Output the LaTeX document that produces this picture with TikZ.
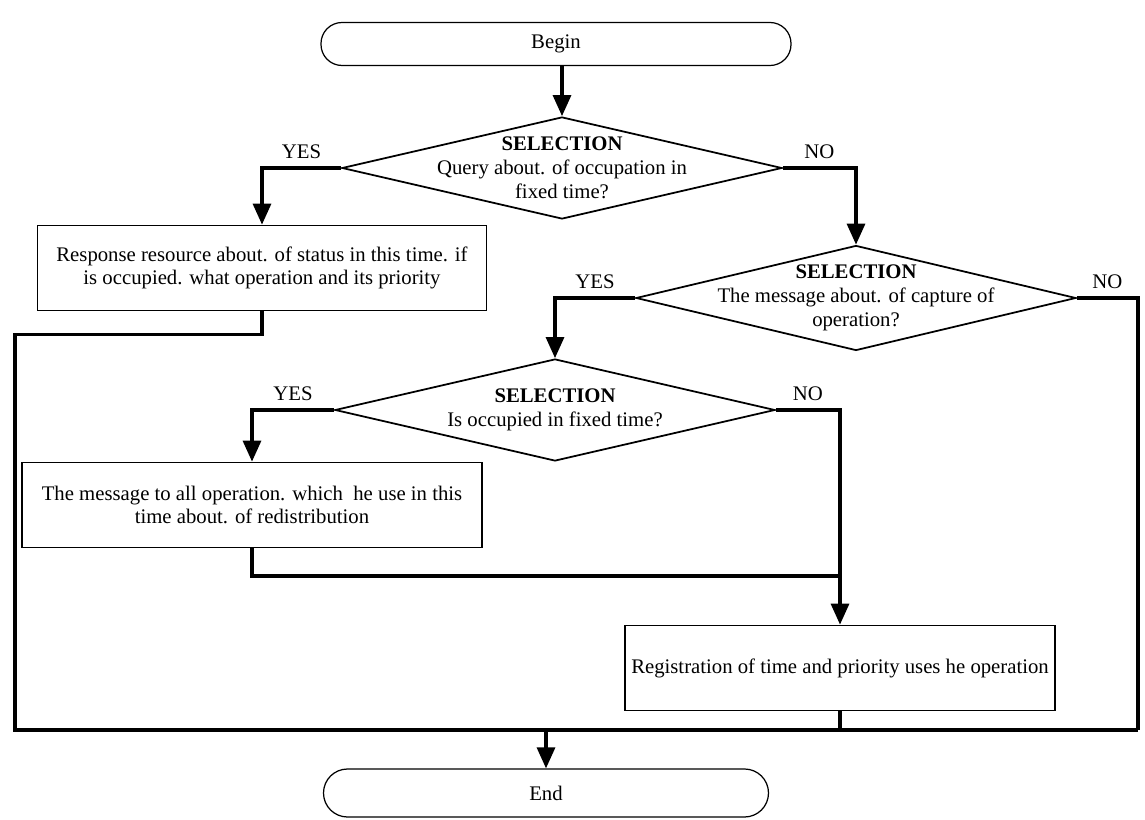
\documentclass[tikz,border=0pt]{standalone}
\usepackage{fontspec}
\setmainfont{Liberation Serif}
\usetikzlibrary{shapes.geometric,arrows.meta}
\tikzset{
	term/.style={draw,line width=0.7pt,rounded corners=4.2mm,minimum width=94mm,minimum height=8.6mm},
	cond/.style={draw,diamond,line width=1pt,inner sep=0pt,minimum width=88mm,minimum height=20.4mm},
	condtext/.style={align=center,font=\fontsize{11.8}{13.5}\selectfont},
	proc/.style={draw,line width=1pt,align=center,minimum height=17mm},
	flow/.style={line width=1.8pt,-{Triangle[length=4.2mm,width=3.6mm]}},
	link/.style={line width=1.8pt},
	ans/.style={above=1pt}
}
\begin{document}
\begin{tikzpicture}[x=0.2mm,y=-0.2mm,font=\fontsize{11.8}{13}\selectfont]
	\useasboundingbox (0,0) rectangle (1145,820);
	\node[term] (begin) at (556,44) {Begin};
	\node[cond] (sel1) at (562,168) {};
	\node[condtext] (sel1txt) at (sel1) {\textbf{SELECTION}\\Query about. of occupation in\\fixed time?};
	\node[proc,minimum width=89.8mm] (resp) at (262,268) {Response resource about. of status in this time. if\\is occupied. what operation and its priority};
	\node[cond,minimum height=21mm] (sel2) at (856,298) {};
	\node[condtext] (sel2txt) at (sel2) {\textbf{SELECTION}\\The message about. of capture of\\operation?};
	\node[cond] (sel3) at (555,410) {};
	\node[condtext] (sel3txt) at (sel3) {\textbf{SELECTION}\\Is occupied in fixed time?};
	\node[proc,minimum width=92mm] (msg) at (252,505) {The message to all operation. which~ he use in this\\time about. of redistribution};
	\node[proc,minimum width=86mm] (reg) at (840,668) {Registration of time and priority uses he operation};
	\node[term,minimum width=89mm,minimum height=9.6mm,rounded corners=4.8mm] (end) at (546,793) {End};
	\coordinate (bl) at (15,730);
	\coordinate (br) at (1138,730);
	\coordinate (mrg) at (840,576);
	\draw[flow] (sel1.north |- begin.south) -- (sel1.north);
	\draw[flow] (sel1.west) -| node[pos=0.25,ans] (yes1) {YES} (resp.north);
	\draw[flow] (sel1.east) -| node[pos=0.25,ans] (no1) {NO} (sel2.north);
	\draw[flow] (sel2.west) -| node[pos=0.25,ans] (yes2) {YES} (sel3.north);
	\draw[link] (sel2.east) -| node[pos=0.25,ans] (no2) {NO} (br);
	\draw[flow] (sel3.west) -| node[pos=0.25,ans] (yes3) {YES} (msg.north);
	\draw[flow] (sel3.east) -| node[pos=0.25,ans] (no3) {NO} (reg.north);
	\draw[link] (resp.south) -- ++(0,23) -| (bl) -- (br);
	\draw[link] (msg.south) |- (mrg);
	\draw[link] (reg.south) -- (reg.south |- bl);
	\draw[flow] (end.north |- bl) -- (end.north);
\end{tikzpicture}
\end{document}
